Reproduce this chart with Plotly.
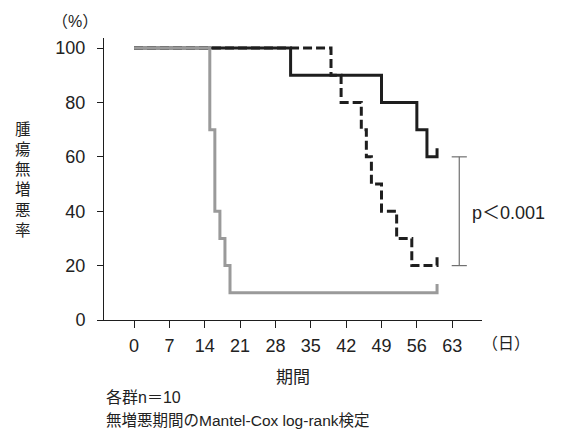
import plotly.graph_objects as go

# ---- data (days, % progression-free) ----
x_ticks = [0, 7, 14, 21, 28, 35, 42, 49, 56, 63]
y_ticks = [0, 20, 40, 60, 80, 100]

ctrl_days = [0, 15, 16, 17, 18, 19]
ctrl_surv = [100, 70, 40, 30, 20, 10]

solid_days = [0, 31, 49, 56, 58]
solid_surv = [100, 90, 80, 70, 60]

dash_days = [0, 39, 41, 45, 46, 47, 49, 52, 55]
dash_surv = [100, 90, 80, 70, 60, 50, 40, 30, 20]

censor_day = 60
censor_tick = 3.2

ylabel_chars = ["腫", "瘍", "無", "増", "悪", "率"]

BLACK = "#1e1e1e"
GRAY = "#9a9a9a"
LATIN = "Liberation Sans, Arial, Noto Sans CJK JP"
CJK = "Noto Sans CJK JP"


def km(days, surv):
    xs = list(days) + [censor_day, censor_day]
    ys = list(surv) + [surv[-1], surv[-1] + censor_tick]
    return xs, ys


fig = go.Figure()
for days, surv, color, dash in [
    (dash_days, dash_surv, BLACK, "9px,4px"),
    (solid_days, solid_surv, BLACK, "solid"),
    (ctrl_days, ctrl_surv, GRAY, "solid"),
]:
    xs, ys = km(days, surv)
    fig.add_trace(go.Scatter(x=xs, y=ys, mode="lines", line_shape="hv",
                             line=dict(color=color, width=3, dash=dash),
                             showlegend=False, hoverinfo="skip"))

# p-value bracket between the final values of the two treated groups
bx = 64.4
bw = 1.5
top = solid_surv[-1]
bot = dash_surv[-1]
bc = "#707070"
fig.add_shape(type="line", x0=bx, x1=bx, y0=bot, y1=top, line=dict(color=bc, width=1.2))
fig.add_shape(type="line", x0=bx - bw, x1=bx + bw, y0=top, y1=top, line=dict(color=bc, width=1.2))
fig.add_shape(type="line", x0=bx - bw, x1=bx + bw, y0=bot, y1=bot, line=dict(color=bc, width=1.2))
fig.add_annotation(x=bx + 2.1, y=(top + bot) / 2 - 0.5, xref="x", yref="y", text="p＜0.001",
                   showarrow=False, xanchor="left", yanchor="middle",
                   font=dict(family=LATIN, size=18, color="#222"))

W, H = 565, 432
L, R, T, B = 104, 83, 38, 112
pw, ph = W - L - R, H - T - B


def px(xp):
    return (xp - L) / pw


def py(yp):
    return (H - B - yp) / ph


def txt(xp, yp, s, size, anchor="center", fam=LATIN):
    fig.add_annotation(x=px(xp), y=py(yp), xref="paper", yref="paper", text=s,
                       showarrow=False, xanchor=anchor, yanchor="middle",
                       font=dict(family=fam, size=size, color="#222"))


txt(75, 21.5, "（%）", 16)
txt(506, 343, "（日）", 16)
txt(293, 377, "期間", 17)
txt(104, 397, "各群n＝10", 16, anchor="left")
txt(104, 420.5, "無増悪期間のMantel-Cox log-rank検定", 15.5, anchor="left")
txt(23, 178.3, "<br>".join(ylabel_chars), 15.5, fam=CJK)

axis_common = dict(showline=True, linecolor=BLACK, linewidth=1, ticks="outside",
                   tickcolor=BLACK, tickwidth=1, showgrid=False, zeroline=False,
                   tickfont=dict(family=LATIN, size=18, color="#222"))

fig.update_xaxes(range=[-5.95, 68.9], tickvals=x_ticks, ticktext=[str(v) for v in x_ticks],
                 ticklen=7, ticklabelstandoff=2, **axis_common)
fig.update_yaxes(range=[0, 103.7], tickvals=y_ticks, ticktext=[str(v) for v in y_ticks],
                 ticklen=6, ticklabelstandoff=8, **axis_common)

fig.update_layout(width=W, height=H, margin=dict(l=L, r=R, t=T, b=B),
                  plot_bgcolor="white", paper_bgcolor="white", showlegend=False)

fig.write_html("out.html")
